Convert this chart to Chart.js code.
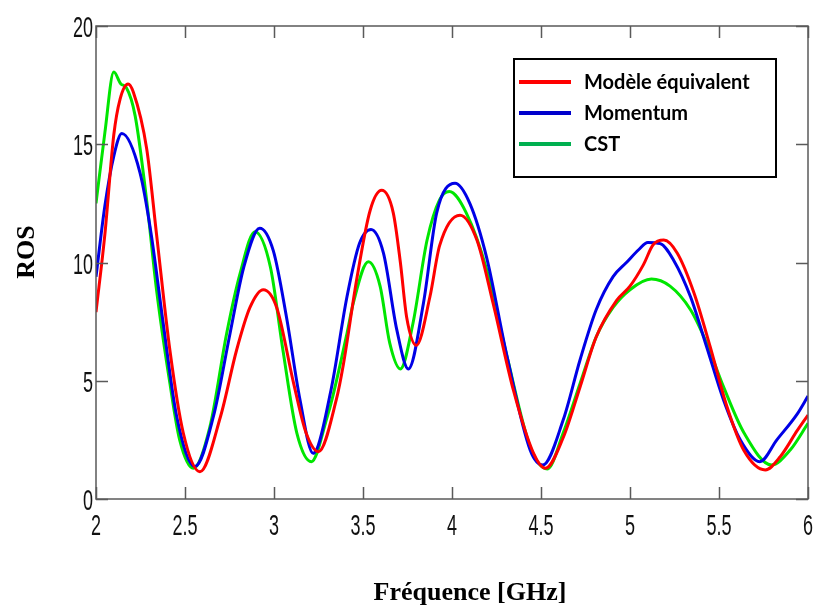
<!DOCTYPE html>
<html>
<head>
<meta charset="utf-8">
<script src="https://cdn.jsdelivr.net/npm/chart.js@4.4.1/dist/chart.umd.min.js"></script>
<style>
  html, body { margin: 0; padding: 0; background: #fff; }
  #wrap { width: 814px; height: 608px; }
</style>
</head>
<body>
<div id="wrap"><canvas id="ros"></canvas></div>
<script>
const xTicks = [2, 2.5, 3, 3.5, 4, 4.5, 5, 5.5, 6];
const yTicks = [0, 5, 10, 15, 20];

const freqModele = [2.00, 2.05, 2.10, 2.135, 2.18, 2.21, 2.285, 2.34, 2.415, 2.49, 2.584, 2.70, 2.79, 2.865, 2.94, 3.015, 3.11, 3.18, 3.25, 3.35, 3.39, 3.465, 3.54, 3.605, 3.67, 3.71, 3.745, 3.80, 3.876, 3.93, 4.045, 4.14, 4.23, 4.345, 4.457, 4.525, 4.625, 4.72, 4.81, 4.925, 5.0, 5.075, 5.13, 5.19, 5.265, 5.36, 5.45, 5.545, 5.64, 5.76, 5.845, 5.94, 6.0];
const rosModele = [7.9, 11.2, 15.4, 16.9, 17.55, 17.2, 14.8, 11.2, 6.3, 2.8, 1.15, 3.5, 6.3, 8.1, 8.85, 8.1, 4.9, 2.8, 2.0, 4.2, 5.7, 9.3, 12.2, 13.05, 12.1, 10.0, 7.7, 6.5, 8.55, 10.7, 12.0, 10.95, 8.3, 4.6, 1.95, 1.3, 2.6, 4.75, 6.85, 8.4, 9.0, 9.9, 10.75, 10.95, 10.4, 8.7, 6.45, 3.9, 2.05, 1.23, 1.8, 2.9, 3.55];

const freqMomentum = [2.00, 2.05, 2.10, 2.145, 2.247, 2.31, 2.378, 2.453, 2.556, 2.66, 2.753, 2.83, 2.92, 2.996, 3.07, 3.146, 3.22, 3.32, 3.41, 3.48, 3.545, 3.615, 3.69, 3.755, 3.84, 3.914, 4.017, 4.10, 4.195, 4.31, 4.44, 4.51, 4.625, 4.72, 4.81, 4.905, 4.98, 5.05, 5.10, 5.17, 5.245, 5.34, 5.43, 5.525, 5.62, 5.73, 5.825, 5.94, 6.0];
const rosMomentum = [9.4, 12.4, 14.5, 15.45, 13.8, 11.2, 7.4, 3.5, 1.37, 3.5, 7.0, 9.8, 11.45, 10.5, 7.7, 4.2, 1.93, 4.6, 8.55, 10.8, 11.4, 10.4, 7.15, 5.5, 8.3, 12.1, 13.35, 12.5, 10.2, 6.0, 2.05, 1.44, 3.35, 5.9, 8.0, 9.4, 10.0, 10.55, 10.85, 10.8, 10.1, 8.55, 6.45, 4.2, 2.5, 1.58, 2.5, 3.6, 4.35];

const freqCST = [2.00, 2.05, 2.10, 2.14, 2.17, 2.22, 2.285, 2.34, 2.415, 2.47, 2.547, 2.64, 2.734, 2.81, 2.893, 2.98, 3.05, 3.128, 3.21, 3.30, 3.33, 3.41, 3.446, 3.53, 3.596, 3.65, 3.71, 3.78, 3.86, 3.93, 3.985, 4.08, 4.195, 4.31, 4.44, 4.535, 4.625, 4.72, 4.81, 4.905, 5.0, 5.12, 5.225, 5.34, 5.43, 5.525, 5.64, 5.795, 5.9, 6.0];
const rosCST = [12.5, 15.5, 18.05, 17.55, 17.4, 16.2, 12.6, 8.85, 4.9, 2.5, 1.3, 3.05, 7.0, 9.55, 11.3, 9.8, 6.3, 2.8, 1.58, 3.5, 4.33, 7.0, 8.3, 10.03, 9.0, 6.6, 5.5, 7.4, 10.95, 12.65, 13.0, 12.1, 9.7, 6.0, 2.2, 1.27, 2.8, 4.9, 6.85, 8.1, 8.85, 9.3, 9.0, 8.0, 6.6, 4.75, 2.8, 1.44, 2.07, 3.2];

const seriesNames = ['Modèle équivalent', 'Momentum', 'CST'];

function toPoints(xs, ys) {
  return xs.map((x, i) => ({ x: x, y: ys[i] }));
}

function makeSet(label, xs, ys, color, legendColor) {
  return {
    label: label,
    data: toPoints(xs, ys),
    borderColor: color,
    legendColor: legendColor,
    borderWidth: 3,
    pointRadius: 0,
    cubicInterpolationMode: 'monotone',
    fill: false,
  };
}

const tickFont = '30px "Liberation Sans", Arial, sans-serif';
const squeeze = 0.6;

const matlabAxes = {
  id: 'matlabAxes',
  afterDraw(chart) {
    const { ctx, chartArea: a, scales } = chart;
    const xs = scales.x;
    const ys = scales.y;
    ctx.save();
    ctx.strokeStyle = '#5a5a5a';
    ctx.lineWidth = 1.5;
    ctx.strokeRect(a.left, a.top, a.right - a.left, a.bottom - a.top);
    const tl = 12;
    ctx.beginPath();
    xTicks.forEach((v) => {
      const px = Math.round(xs.getPixelForValue(v)) + 0.5;
      ctx.moveTo(px, a.bottom); ctx.lineTo(px, a.bottom - tl);
      ctx.moveTo(px, a.top); ctx.lineTo(px, a.top + tl);
    });
    yTicks.forEach((v) => {
      const py = Math.round(ys.getPixelForValue(v)) + 0.5;
      ctx.moveTo(a.left, py); ctx.lineTo(a.left + tl, py);
      ctx.moveTo(a.right, py); ctx.lineTo(a.right - tl, py);
    });
    ctx.stroke();

    // tick labels, condensed like the original
    ctx.fillStyle = '#111';
    ctx.font = tickFont;
    ctx.textBaseline = 'alphabetic';
    xTicks.forEach((v) => {
      const px = xs.getPixelForValue(v);
      ctx.save();
      ctx.translate(px, 535);
      ctx.scale(squeeze, 1);
      ctx.textAlign = 'center';
      ctx.fillText(String(v), 0, 0);
      ctx.restore();
    });
    yTicks.forEach((v) => {
      const py = ys.getPixelForValue(v);
      ctx.save();
      ctx.translate(93, py + 11);
      ctx.scale(squeeze, 1);
      ctx.textAlign = 'right';
      ctx.fillText(String(v), 0, 0);
      ctx.restore();
    });

    // axis titles
    ctx.font = 'bold 26px "Liberation Serif", "Times New Roman", serif';
    ctx.textAlign = 'center';
    ctx.fillStyle = '#000';
    ctx.fillText('Fréquence [GHz]', 470, 600);
    ctx.save();
    ctx.translate(34, 252);
    ctx.rotate(-Math.PI / 2);
    ctx.fillText('ROS', 0, 0);
    ctx.restore();

    // legend box
    const bx = 514, by = 59, bw = 262, bh = 118;
    ctx.fillStyle = '#fff';
    ctx.fillRect(bx, by, bw, bh);
    ctx.strokeStyle = '#000';
    ctx.lineWidth = 2;
    ctx.strokeRect(bx, by, bw, bh);
    ctx.font = 'bold 20px Lato, "Open Sans", sans-serif';
    ctx.textAlign = 'left';
    ctx.textBaseline = 'middle';
    chart.data.datasets.forEach((ds, i) => {
      const ly = 82 + i * 31;
      ctx.strokeStyle = ds.legendColor;
      ctx.lineWidth = 4;
      ctx.beginPath();
      ctx.moveTo(519, ly); ctx.lineTo(571, ly);
      ctx.stroke();
      ctx.fillStyle = '#000';
      ctx.fillText(ds.label, 584, ly + 1);
    });
    ctx.restore();
  },
};

new Chart(document.getElementById('ros'), {
  type: 'line',
  data: {
    datasets: [
      makeSet(seriesNames[0], freqModele, rosModele, '#ff0000', '#ff0000'),
      makeSet(seriesNames[1], freqMomentum, rosMomentum, '#0000e6', '#0000cc'),
      makeSet(seriesNames[2], freqCST, rosCST, '#00e600', '#00b050'),
    ],
  },
  options: {
    responsive: true,
    maintainAspectRatio: false,
    animation: false,
    layout: { padding: { top: 26, right: 6, left: 0, bottom: 0 } },
    plugins: {
      legend: { display: false },
      tooltip: { enabled: false },
    },
    scales: {
      x: {
        type: 'linear',
        min: 2,
        max: 6,
        ticks: { display: false, stepSize: 0.5 },
        grid: { display: false },
        border: { display: false },
        afterFit: (s) => { s.height = 109; },
      },
      y: {
        min: 0,
        max: 20,
        ticks: { display: false, stepSize: 5 },
        grid: { display: false },
        border: { display: false },
        afterFit: (s) => { s.width = 96; },
      },
    },
  },
  plugins: [matlabAxes],
});
</script>
</body>
</html>
